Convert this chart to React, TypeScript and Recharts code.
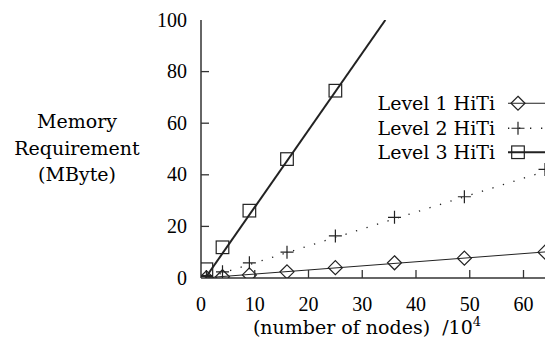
import React from "react";
import { ComposedChart, Line, XAxis, YAxis } from "recharts";

// ---- data ----
const nodes = [1, 4, 9, 16, 25, 36, 49, 64];
const level1 = [0.1, 0.5, 1.2, 2.4, 4.0, 5.9, 7.7, 10.0];
const level2 = [0.6, 2.4, 5.9, 10.0, 16.3, 23.5, 31.5, 42.1];
const level3Nodes = [1, 4, 9, 16, 25];
const level3 = [3.4, 11.9, 26.1, 46.1, 72.6];

// fitted curves (gnuplot fit lines)
const fit1X = [1, 64];
const fit1Y = [0.1, 10.1];
const fit2X = [1.5, 64];
const fit2Y = [0.3, 41.3];
const fit3X = [0.8, 34.3];
const fit3Y = [0, 100];

const xTicks = [0, 10, 20, 30, 40, 50, 60];
const yTicks = [0, 20, 40, 60, 80, 100];
const seriesNames = ["Level 1 HiTi", "Level 2 HiTi", "Level 3 HiTi"];
const yLabelLines = ["Memory", "Requirement", "(MByte)"];

const toPts = (xs: number[], ys: number[]) => xs.map((x, i) => ({ x, y: ys[i] }));

const d1 = toPts(nodes, level1);
const d2 = toPts(nodes, level2);
const d3 = toPts(level3Nodes, level3);
const f1 = toPts(fit1X, fit1Y);
const f2 = toPts(fit2X, fit2Y);
const f3 = toPts(fit3X, fit3Y);

const INK = "#222";
const TEXT_STYLE = { fontFamily: "DejaVu Serif, serif" };
const NUM_STYLE = { fontFamily: "Liberation Serif, serif" };

type Kind = "diamond" | "plus" | "square";

const Marker = ({ cx, cy, kind }: { cx: number; cy: number; kind: Kind }) => {
  if (kind === "diamond") {
    const r = 7;
    return (
      <path
        d={`M${cx},${cy - r} L${cx + r},${cy} L${cx},${cy + r} L${cx - r},${cy} Z`}
        fill="none"
        stroke={INK}
        strokeWidth={1.2}
      />
    );
  }
  if (kind === "square") {
    const r = 6.3;
    return <rect x={cx - r} y={cy - r} width={2 * r} height={2 * r} fill="none" stroke={INK} strokeWidth={1.2} />;
  }
  const r = 6.5;
  return (
    <path d={`M${cx - r},${cy} H${cx + r} M${cx},${cy - r} V${cy + r}`} fill="none" stroke={INK} strokeWidth={1.2} />
  );
};

const makeDot = (kind: Kind) => (props: any) =>
  <Marker key={`${kind}-${props.index}`} cx={props.cx} cy={props.cy} kind={kind} />;

const LeftTick = (props: any) => {
  const { x, y, payload } = props;
  return (
    <g>
      <text x={x} y={y} dy={6.5} textAnchor="end" style={NUM_STYLE} fontSize={20} fill="#000">
        {payload.value}
      </text>
      {payload.value !== 0 && payload.value !== 100 && (
        <line x1={x + 14} x2={x + 22} y1={y} y2={y} stroke="#333" strokeWidth={1.3} />
      )}
    </g>
  );
};

const RightTick = (props: any) => {
  const { x, y, payload } = props;
  if (payload.value === 0 || payload.value === 100) return <g />;
  return <line x1={x - 8} x2={x} y1={y} y2={y} stroke="#333" strokeWidth={1.3} />;
};

const BottomTick = (props: any) => {
  const { x, y, payload } = props;
  return (
    <g>
      <text x={x} y={y} dy={33} textAnchor="middle" style={NUM_STYLE} fontSize={20} fill="#000">
        {payload.value}
      </text>
      {payload.value !== 0 && <line x1={x} x2={x} y1={y} y2={y - 8} stroke="#333" strokeWidth={1.3} />}
    </g>
  );
};

const TopTick = (props: any) => {
  const { x, y, payload } = props;
  if (payload.value === 0) return <g />;
  return <line x1={x} x2={x} y1={y} y2={y + 8} stroke="#333" strokeWidth={1.3} />;
};

const YLabel = () => (
  <g>
    {yLabelLines.map((t, i) => (
      <text key={t} x={77} y={128 + i * 26.5} textAnchor="middle" style={TEXT_STYLE} fontSize={19} fill="#000">
        {t}
      </text>
    ))}
  </g>
);

const XLabel = (props: any) => {
  const vb = props.viewBox || { x: 0, width: 0, y: 0 };
  const cx = vb.x + vb.width / 2 - 6;
  return (
    <text x={cx} y={334} textAnchor="middle" style={{ ...TEXT_STYLE, whiteSpace: "pre" }} fontSize={19} fill="#000">
      {"(number of nodes)  /10"}
      <tspan fontSize={13} dy={-8}>4</tspan>
    </text>
  );
};

const legendKinds: Kind[] = ["diamond", "plus", "square"];

const LegendBox = () => (
  <div style={{ position: "absolute", left: 345, top: 91, width: 201 }}>
    {seriesNames.map((name, i) => (
      <div key={name} style={{ display: "flex", alignItems: "center", height: 24.5 }}>
        <span
          style={{
            ...TEXT_STYLE,
            width: 150,
            textAlign: "right",
            fontSize: 19,
            lineHeight: "24.5px",
            color: "#000",
            whiteSpace: "nowrap",
          }}
        >
          {name}
        </span>
        <svg width={51} height={24.5} style={{ display: "block", overflow: "visible" }}>
          {i === 0 && <line x1={13} x2={50} y1={12.25} y2={12.25} stroke={INK} strokeWidth={1} />}
          {i === 1 && (
            <line x1={13} x2={50} y1={12.25} y2={12.25} stroke={INK} strokeWidth={1.3} strokeDasharray="1.3 9.7" />
          )}
          {i === 2 && <line x1={13} x2={50} y1={12.25} y2={12.25} stroke={INK} strokeWidth={2} />}
          <Marker cx={23} cy={12.25} kind={legendKinds[i]} />
        </svg>
      </div>
    ))}
  </div>
);

export default function App() {
  return (
    <div style={{ position: "absolute", left: 0, top: 0, width: 556, height: 340, fontFamily: "DejaVu Serif, serif" }}>
      <ComposedChart width={556} height={340} margin={{ top: 20, right: 11, left: 0, bottom: 0 }}>
        <XAxis
          dataKey="x"
          type="number"
          domain={[0, 64]}
          ticks={xTicks}
          interval={0}
          height={62}
          tickSize={0}
          tickMargin={0}
          tick={<BottomTick />}
          axisLine={{ stroke: "#333", strokeWidth: 1.5 }}
          allowDataOverflow
          label={<XLabel />}
        />
        <XAxis
          xAxisId="t"
          orientation="top"
          dataKey="x"
          type="number"
          domain={[0, 64]}
          ticks={xTicks}
          interval={0}
          height={0}
          tickSize={0}
          tickMargin={0}
          tick={<TopTick />}
          axisLine={{ stroke: "#333", strokeWidth: 1.5 }}
          allowDataOverflow
        />
        <YAxis
          type="number"
          domain={[0, 100]}
          ticks={yTicks}
          interval={0}
          width={201}
          tickSize={0}
          tickMargin={14}
          tick={<LeftTick />}
          axisLine={{ stroke: "#333", strokeWidth: 1.5 }}
          allowDataOverflow
          label={<YLabel />}
        />
        <YAxis
          yAxisId="r"
          orientation="right"
          type="number"
          domain={[0, 100]}
          ticks={yTicks}
          interval={0}
          width={0}
          tickSize={0}
          tickMargin={0}
          tick={<RightTick />}
          axisLine={{ stroke: "#333", strokeWidth: 1.5 }}
          allowDataOverflow
        />
        <Line data={f1} dataKey="y" type="linear" stroke={INK} strokeWidth={1} dot={false} activeDot={false} legendType="none" isAnimationActive={false} />
        <Line data={f2} dataKey="y" type="linear" stroke={INK} strokeWidth={1.3} strokeDasharray="1.3 9.7" dot={false} activeDot={false} legendType="none" isAnimationActive={false} />
        <Line data={f3} dataKey="y" type="linear" stroke={INK} strokeWidth={2} dot={false} activeDot={false} legendType="none" isAnimationActive={false} />
        <Line data={d1} dataKey="y" stroke="none" dot={makeDot("diamond")} activeDot={false} legendType="none" isAnimationActive={false} />
        <Line data={d2} dataKey="y" stroke="none" dot={makeDot("plus")} activeDot={false} legendType="none" isAnimationActive={false} />
        <Line data={d3} dataKey="y" stroke="none" dot={makeDot("square")} activeDot={false} legendType="none" isAnimationActive={false} />
      </ComposedChart>
      <LegendBox />
    </div>
  );
}
